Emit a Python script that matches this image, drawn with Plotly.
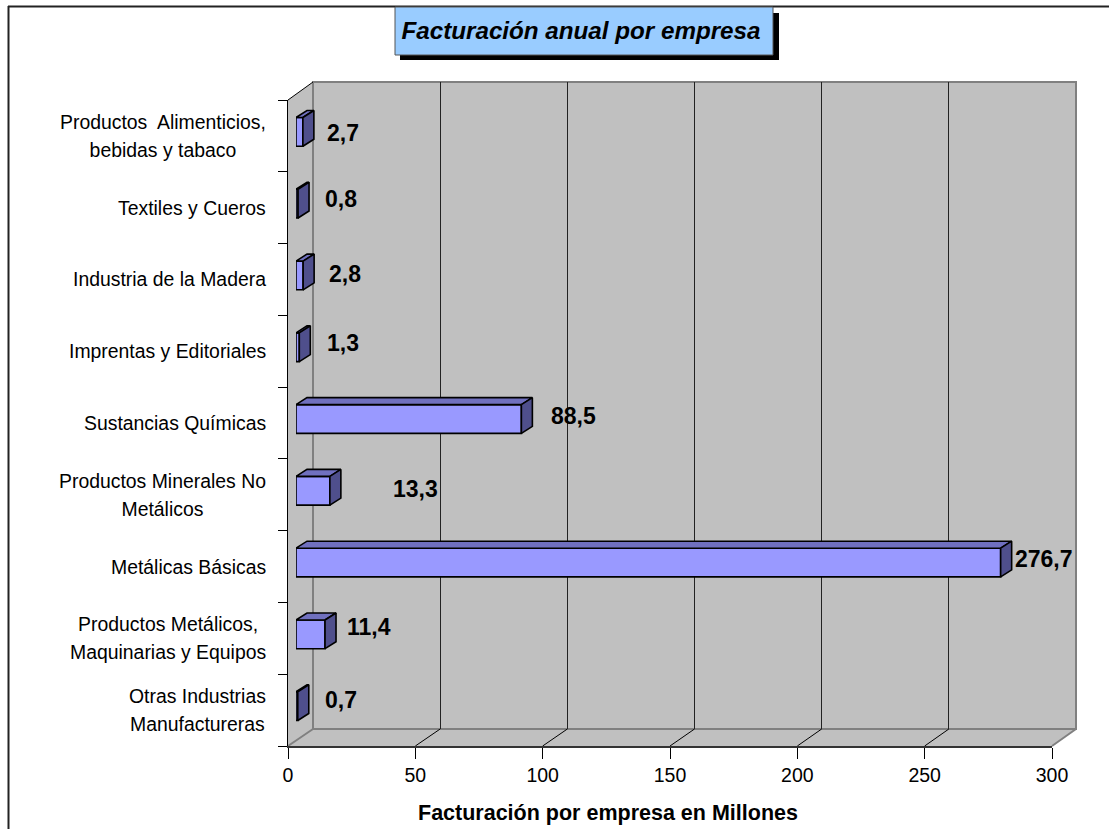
"""Facturación anual por empresa, horizontal bars with a drawn 3D wall."""

import plotly.graph_objects as go

CATEGORIES = [
    "Productos  Alimenticios,<br>bebidas y tabaco",
    "Textiles y Cueros",
    "Industria de la Madera",
    "Imprentas y Editoriales",
    "Sustancias Químicas",
    "Productos Minerales No<br>Metálicos",
    "Metálicas Básicas",
    "Productos Metálicos,<br>Maquinarias y Equipos",
    "Otras Industrias<br>Manufactureras",
]
VALUES = [2.7, 0.8, 2.8, 1.3, 88.5, 13.3, 276.7, 11.4, 0.7]
VALUE_LABELS = ["2,7", "0,8", "2,8", "1,3", "88,5", "13,3", "276,7", "11,4", "0,7"]
X_TICKS = [0, 50, 100, 150, 200, 250, 300]

# label nudges in pixels, the original has them hand placed
LABEL_XSHIFT = [22, 25, 24, 26, 28, 61, 12, 20, 25]
LABEL_YSHIFT = [-1, 5, 1, 4, 3, 2, 4, 7, 6]

W, H = 1109, 829
FONT = "Liberation Sans, Arial, sans-serif"

# pixel frame of the chart
FRONT = dict(l=288, r=1052, t=100, b=746)
BACK = dict(l=313, r=1076, t=82, b=729)
BARS = dict(l=296, r=1060, t=96, b=742)

X_MAX = 300
PX_PER_UNIT = (FRONT["r"] - FRONT["l"]) / X_MAX
PX_PER_ROW = (FRONT["b"] - FRONT["t"]) / len(VALUES)
DEPTH_X = 11 / PX_PER_UNIT
DEPTH_Y = 7 / PX_PER_ROW
BAR_WIDTH = 0.4
BAR_LINE = 1.6


def px(x):
    return x / W


def py(y):
    return 1 - y / H


def x_domain(box):
    return [px(box["l"]), px(box["r"])]


def y_domain(box):
    return [py(box["b"]), py(box["t"])]


def poly(points):
    return "M " + " L ".join(f"{px(x)},{py(y)}" for x, y in points) + " Z"


def line_shape(x0, y0, x1, y1, color, width=1):
    return dict(
        type="line", xref="paper", yref="paper", layer="below",
        x0=px(x0), y0=py(y0), x1=px(x1), y1=py(y1),
        line=dict(color=color, width=width),
    )


def sized_lines(text, size):
    # line spacing follows the annotation font, glyph size follows the span
    return "<br>".join(
        f'<span style="font-size:{size}px">{part}</span>' for part in text.split("<br>")
    )


rows = list(range(len(VALUES)))
y_range = [len(VALUES) - 0.5, -0.5]
h = BAR_WIDTH / 2

fig = go.Figure()

# back wall gridlines
fig.add_trace(go.Scatter(x=[], y=[], xaxis="x", yaxis="y", showlegend=False))
# keeps the front axes alive
fig.add_trace(go.Scatter(x=[], y=[], xaxis="x2", yaxis="y2", showlegend=False))

fig.add_trace(go.Bar(
    x=VALUES, y=rows, orientation="h", width=BAR_WIDTH,
    xaxis="x3", yaxis="y3", showlegend=False,
    marker=dict(color="#9999FF", line=dict(color="#000000", width=BAR_LINE)),
))

for row, value in zip(rows, VALUES):
    fig.add_trace(go.Scatter(
        x=[0, value, value + DEPTH_X, DEPTH_X, 0],
        y=[row - h, row - h, row - h - DEPTH_Y, row - h - DEPTH_Y, row - h],
        xaxis="x3", yaxis="y3", mode="lines", fill="toself",
        fillcolor="#7070BF", line=dict(color="#000000", width=BAR_LINE),
        showlegend=False, hoverinfo="skip",
    ))
    fig.add_trace(go.Scatter(
        x=[value, value + DEPTH_X, value + DEPTH_X, value, value],
        y=[row - h, row - h - DEPTH_Y, row + h - DEPTH_Y, row + h, row - h],
        xaxis="x3", yaxis="y3", mode="lines", fill="toself",
        fillcolor="#4F4F8C", line=dict(color="#000000", width=BAR_LINE),
        showlegend=False, hoverinfo="skip",
    ))

shapes = [
    # outer chart frame
    line_shape(8, 6.5, W, 6.5, "#222222", 2),
    line_shape(8.5, 6, 8.5, H, "#222222", 2),
    # title box with drop shadow
    dict(type="rect", xref="paper", yref="paper", layer="below",
         x0=px(400), x1=px(779), y0=py(60), y1=py(13),
         fillcolor="#000000", line=dict(width=0)),
    dict(type="rect", xref="paper", yref="paper", layer="below",
         x0=px(395), x1=px(773), y0=py(55), y1=py(7),
         fillcolor="#99CCFF", line=dict(color="#555555", width=1)),
    # side wall and floor
    dict(type="path", xref="paper", yref="paper", layer="below",
         path=poly([(FRONT["l"], FRONT["t"]), (BACK["l"], BACK["t"]),
                    (BACK["l"], BACK["b"]), (BACK["r"], BACK["b"]),
                    (FRONT["r"], FRONT["b"]), (FRONT["l"], FRONT["b"])]),
         fillcolor="#C0C0C0", line=dict(width=0)),
    # back wall
    dict(type="rect", xref="paper", yref="paper", layer="below",
         x0=px(BACK["l"]), x1=px(BACK["r"]), y0=py(BACK["b"]), y1=py(BACK["t"]),
         fillcolor="#C0C0C0", line=dict(color="#808080", width=2)),
    line_shape(FRONT["l"], FRONT["t"], BACK["l"], BACK["t"], "#000000"),
    line_shape(FRONT["l"], FRONT["b"], BACK["l"], BACK["b"], "#808080", 2),
    line_shape(FRONT["r"], FRONT["b"], BACK["r"], BACK["b"], "#808080", 2),
]

# floor lines run from the front ticks to the wall gridlines
for tick in X_TICKS[1:-1]:
    front_x = FRONT["l"] + tick * PX_PER_UNIT
    back_x = BACK["l"] + tick * (BACK["r"] - BACK["l"]) / X_MAX
    shapes.append(line_shape(front_x, FRONT["b"], back_x, BACK["b"], "#000000"))

annotations = [
    dict(text="Facturación por empresa en Millones", xref="paper", yref="paper",
         x=px(608), y=py(813), xanchor="center", yanchor="middle", showarrow=False,
         font=dict(size=21.5, family=FONT, color="#000000", weight="bold")),
]

for row, name in zip(rows, CATEGORIES):
    annotations.append(dict(
        text=sized_lines(name, 19.4), xref="paper", yref="y2", x=px(268), y=row,
        xanchor="right", align="center", showarrow=False,
        font=dict(size=21.5, family=FONT, color="#000000"),
    ))

for row, value, label, dx, dy in zip(rows, VALUES, VALUE_LABELS, LABEL_XSHIFT, LABEL_YSHIFT):
    annotations.append(dict(
        text=label, xref="x3", yref="y3", x=value, y=row,
        xanchor="left", xshift=dx, yshift=dy, showarrow=False,
        font=dict(size=23, family=FONT, color="#000000", weight="bold"),
    ))

hidden = dict(visible=False, fixedrange=True)

fig.update_layout(
    width=W, height=H,
    margin=dict(l=0, r=0, t=0, b=0, autoexpand=False),
    autosize=False,
    paper_bgcolor="#FFFFFF",
    plot_bgcolor="rgba(0,0,0,0)",
    showlegend=False,
    font=dict(family=FONT, color="#000000"),
    title=dict(
        text="Facturación anual por empresa",
        x=px(581), y=py(31), xanchor="center", yanchor="middle",
        font=dict(size=24.2, family=FONT, color="#000000", weight="bold", style="italic"),
    ),
    xaxis=dict(
        domain=x_domain(BACK), range=[0, X_MAX], anchor="y",
        tickvals=X_TICKS[1:-1], showgrid=True, gridcolor="#222222", gridwidth=1,
        showticklabels=False, ticks="", zeroline=False, showline=False,
    ),
    yaxis=dict(
        domain=y_domain(BACK), range=y_range, anchor="x",
        showgrid=False, showticklabels=False, ticks="", zeroline=False, showline=False,
    ),
    xaxis2=dict(
        domain=x_domain(FRONT), range=[0, X_MAX], anchor="y2",
        tickvals=X_TICKS, ticktext=[str(t) for t in X_TICKS],
        ticks="outside", ticklen=11, tickcolor="#000000", tickwidth=1,
        showline=True, linecolor="#333333", linewidth=2,
        showgrid=False, zeroline=False,
        tickfont=dict(size=19.5, family=FONT, color="#000000"),
    ),
    yaxis2=dict(
        domain=y_domain(FRONT), range=y_range, anchor="x2",
        tickvals=[r - 0.5 for r in rows] + [rows[-1] + 0.5],
        ticks="outside", ticklen=9, tickcolor="#000000", tickwidth=1,
        showticklabels=False, showline=True, linecolor="#000000", linewidth=1,
        showgrid=False, zeroline=False,
    ),
    xaxis3=dict(domain=x_domain(BARS), range=[0, X_MAX], anchor="y3", **hidden),
    yaxis3=dict(domain=y_domain(BARS), range=y_range, anchor="x3", **hidden),
    shapes=shapes,
    annotations=annotations,
)

fig.write_html(
    "out.html",
    config=dict(displayModeBar=False),
    post_script="document.body.style.margin = '0';",
)
